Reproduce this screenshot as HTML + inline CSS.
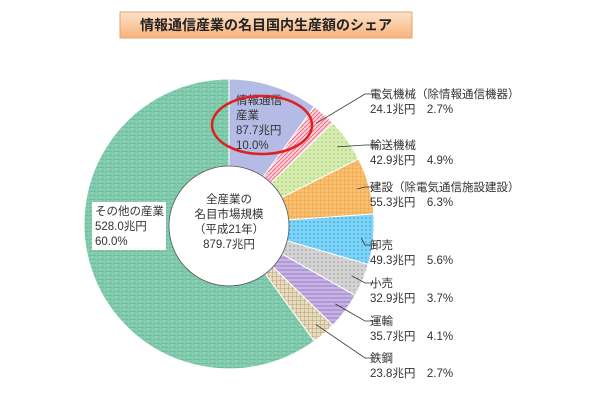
<!DOCTYPE html>
<html><head><meta charset="utf-8"><style>
body{margin:0;background:#fff;width:610px;height:400px;overflow:hidden;font-family:"Liberation Sans","Noto Sans CJK JP",sans-serif}
svg text{font-family:"Liberation Sans","Noto Sans CJK JP",sans-serif}
</style></head><body>
<svg width="610" height="400">
<defs>
<linearGradient id="tg" x1="0" y1="0" x2="0" y2="1"><stop offset="0" stop-color="#fde3c8"/><stop offset="1" stop-color="#f7b27a"/></linearGradient>
<pattern id="p0" width="4" height="4" patternUnits="userSpaceOnUse"><rect width="4" height="4" fill="#b4bce6"/></pattern>
<pattern id="p1" width="4" height="4" patternUnits="userSpaceOnUse"><rect width="4" height="4" fill="#fbd0d8"/><path d="M0 4L4 0" stroke="#ee7088" stroke-width="1"/></pattern>
<pattern id="p2" width="4" height="4" patternUnits="userSpaceOnUse"><rect width="4" height="4" fill="#d6ecb0"/><circle cx="2" cy="2" r="0.8" fill="#9cc868"/></pattern>
<pattern id="p3" width="4" height="4" patternUnits="userSpaceOnUse"><rect width="4" height="4" fill="#f8c070"/><path d="M0 0H4M0 0V4" stroke="#e89a38" stroke-width="0.8"/></pattern>
<pattern id="p4" width="4" height="4" patternUnits="userSpaceOnUse"><rect width="4" height="4" fill="#7ed4f6"/><circle cx="2" cy="2" r="0.9" fill="#3aa8e0"/></pattern>
<pattern id="p5" width="4" height="4" patternUnits="userSpaceOnUse"><rect width="4" height="4" fill="#d4d4d4"/><circle cx="2" cy="2" r="0.8" fill="#999"/></pattern>
<pattern id="p6" width="4" height="4" patternUnits="userSpaceOnUse"><rect width="4" height="4" fill="#c8b4e4"/><path d="M0 2H4" stroke="#9a7cc8" stroke-width="1"/></pattern>
<pattern id="p7" width="4" height="4" patternUnits="userSpaceOnUse"><rect width="4" height="4" fill="#e8dcc0"/><path d="M0 0H4M0 0V4" stroke="#b8a070" stroke-width="1"/></pattern>
<pattern id="p8" width="8" height="4" patternUnits="userSpaceOnUse"><rect width="8" height="4" fill="#6cc0a0"/><path d="M0 0H8M4 0V2M0 2H8M0 2V4" stroke="#a8dcc4" stroke-width="0.7"/></pattern>
</defs>
<rect x="120" y="12" width="292" height="26" fill="url(#tg)" stroke="#e8a070"/>
<text x="266" y="30" text-anchor="middle" font-size="14" font-weight="bold" fill="#222">情報通信産業の名目国内生産額のシェア</text>
<g id="slices"></g>
<circle cx="229" cy="226" r="60" fill="#fff" stroke="#555" stroke-width="0.8"/>
<g font-size="11.5" fill="#333" text-anchor="middle">
<text x="229" y="203">全産業の</text><text x="229" y="218">名目市場規模</text><text x="229" y="233">（平成21年）</text><text x="229" y="248">879.7兆円</text></g>
<rect x="233" y="92" width="58" height="58" fill="#b4bce6" opacity="0"/>
<g font-size="11.5" fill="#333">
<text x="236" y="104">情報通信</text><text x="236" y="119">産業</text><text x="236" y="134">87.7兆円</text><text x="236" y="149">10.0%</text></g>
<ellipse cx="262" cy="125" rx="50" ry="29" fill="none" stroke="#e02020" stroke-width="2.5"/>
<rect x="92" y="202" width="74" height="48" fill="#fff"/>
<g font-size="11.5" fill="#333">
<text x="95" y="215">その他の産業</text><text x="95" y="230">528.0兆円</text><text x="95" y="245">60.0%</text></g>
<g id="labels" font-size="11.5" fill="#333"></g>
</svg>
<script>
const categories=["情報通信産業","電気機械（除情報通信機器）","輸送機械","建設（除電気通信施設建設）","卸売","小売","運輸","鉄鋼","その他の産業"];
const amounts=["87.7","24.1","42.9","55.3","49.3","32.9","35.7","23.8","528.0"];
const shares=[10.0,2.7,4.9,6.3,5.6,3.7,4.1,2.7,60.0];
const cx=229,cy=224,R=145,ns="http://www.w3.org/2000/svg";
const total=shares.reduce((a,b)=>a+b,0);
const g=document.getElementById('slices'),lg=document.getElementById('labels');
const labelY=[94,145,187,245,283,321,358];
let a0=0;
shares.forEach((v,i)=>{
 const a1=a0+v/total*2*Math.PI;
 const x0=cx+R*Math.sin(a0),y0=cy-R*Math.cos(a0),x1=cx+R*Math.sin(a1),y1=cy-R*Math.cos(a1);
 const p=document.createElementNS(ns,'path');
 p.setAttribute('d',`M${cx} ${cy}L${x0} ${y0}A${R} ${R} 0 ${a1-a0>Math.PI?1:0} 1 ${x1} ${y1}Z`);
 p.setAttribute('fill',`url(#p${i})`);p.setAttribute('stroke','#fff');p.setAttribute('stroke-width','1');
 
 
 g.appendChild(p);
 if(i>=1&&i<=7){
  const am=(a0+a1)/2,r=R-12;
  const ax=cx+r*Math.sin(am),ay=cy-r*Math.cos(am),ly=labelY[i-1];
  const l=document.createElementNS(ns,'polyline');
  l.setAttribute('points',`${ax},${ay} 365,${ly} 378,${ly}`);
  l.setAttribute('fill','none');l.setAttribute('stroke','#333');l.setAttribute('stroke-width','0.8');
  
  
  lg.appendChild(l);
  const t1=document.createElementNS(ns,'text');t1.setAttribute('x',370);t1.setAttribute('y',ly+4);t1.textContent=categories[i];
  
  
  lg.appendChild(t1);
  const t2=document.createElementNS(ns,'text');t2.setAttribute('x',370);t2.setAttribute('y',ly+19);t2.setAttribute('xml:space','preserve');
  t2.textContent=amounts[i]+'兆円　'+shares[i].toFixed(1)+'%';
  
  
  lg.appendChild(t2);
 }
 a0=a1;
});
</script>
</body></html>
